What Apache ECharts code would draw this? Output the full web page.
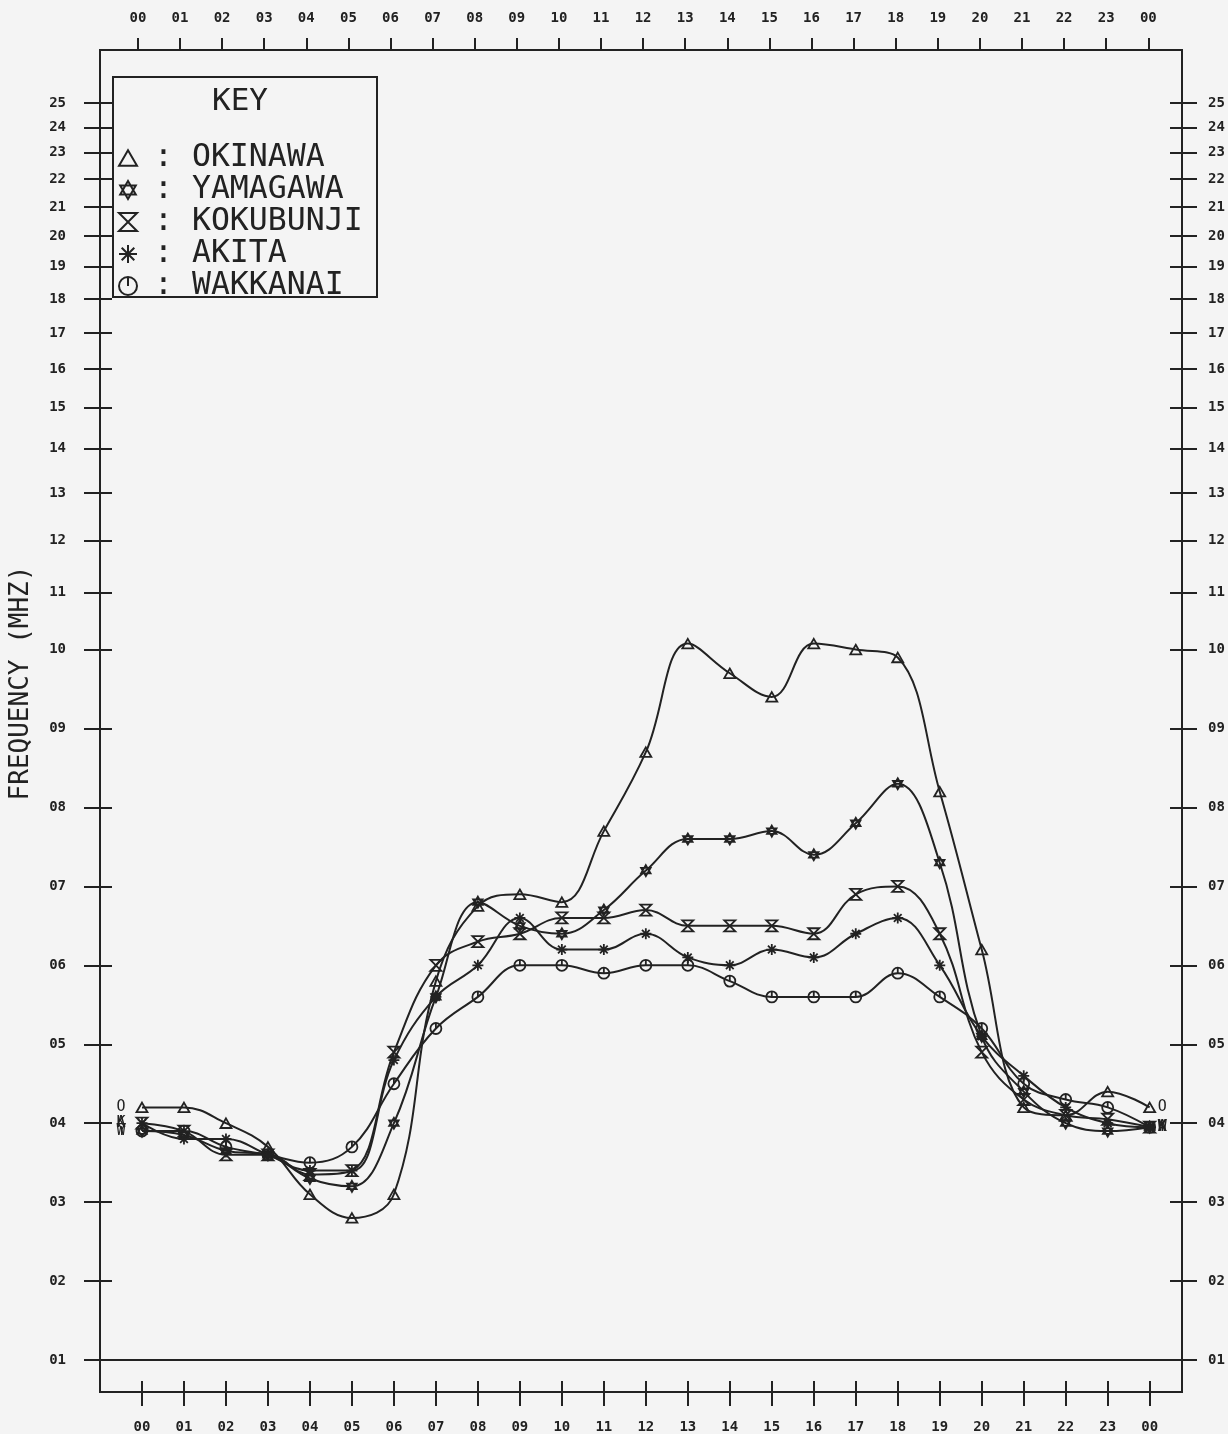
<!DOCTYPE html>
<html><head><meta charset="utf-8">
<script src="https://cdn.jsdelivr.net/npm/echarts@6/dist/echarts.min.js"></script>
<style>html,body{margin:0;padding:0;background:#f4f4f4}#c{width:1228px;height:1434px}</style>
</head><body><div id="c"></div><script>
// ---- data ----
const hours = [0,1,2,3,4,5,6,7,8,9,10,11,12,13,14,15,16,17,18,19,20,21,22,23,24];
const freqTicks = [1,2,3,4,5,6,7,8,9,10,11,12,13,14,15,16,17,18,19,20,21,22,23,24,25];
const stations = ['OKINAWA','YAMAGAWA','KOKUBUNJI','AKITA','WAKKANAI'];
const stationLetters = ['O','Y','K','A','W'];
const okinawa   = [4.2,4.2,4.0,3.7,3.1,2.8,3.1,5.8,6.75,6.9,6.8,7.7,8.7,10.1,9.7,9.4,10.1,10.0,9.9,8.2,6.2,4.2,4.1,4.4,4.2];
const yamagawa  = [3.9,3.85,3.65,3.6,3.3,3.2,4.0,5.6,6.8,6.5,6.4,6.7,7.2,7.6,7.6,7.7,7.4,7.8,8.3,7.3,5.1,4.4,4.0,3.9,3.95];
const kokubunji = [4.0,3.9,3.6,3.6,3.35,3.4,4.9,6.0,6.3,6.4,6.6,6.6,6.7,6.5,6.5,6.5,6.4,6.9,7.0,6.4,4.9,4.3,4.1,4.05,3.95];
const akita     = [4.0,3.8,3.8,3.6,3.4,3.4,4.8,5.6,6.0,6.6,6.2,6.2,6.4,6.1,6.0,6.2,6.1,6.4,6.6,6.0,5.1,4.6,4.2,4.0,3.95];
const wakkanai  = [3.9,3.9,3.7,3.6,3.5,3.7,4.5,5.2,5.6,6.0,6.0,5.9,6.0,6.0,5.8,5.6,5.6,5.6,5.9,5.6,5.2,4.5,4.3,4.2,3.95];
const seriesValues = [okinawa, yamagawa, kokubunji, akita, wakkanai];

// ---- axis scale: linear to 10 MHz, logarithmic above ----
const K = 7.557;
function pos(f){ return f <= 10 ? f : 10 + K*Math.log(f/10); }
function inv(p){ return p <= 10.0001 ? p : 10*Math.exp((p-10)/K); }
function pad2(n){ n = Math.round(n); return (n<10?'0':'') + n; }

// ---- styles ----
const INK = '#222222';
const FONT = 'DejaVu Sans Mono';
const symbols = [
  'path://M5 0 L10 8.7 L0 8.7 Z',
  'path://M5 0 L9.33 7.5 L0.67 7.5 Z M5 10 L0.67 2.5 L9.33 2.5 Z',
  'path://M0 0 L10 0 L0 10 L10 10 Z',
  'path://M5 0 L5 10 M0 5 L10 5 M1.5 1.5 L8.5 8.5 M8.5 1.5 L1.5 8.5',
  'path://M10 5 A5 5 0 1 1 0 5 A5 5 0 1 1 10 5 Z M5 0 L5 5'
];

const yTickPos = freqTicks.map(pos);
const xTickVals = hours.slice();
const xLabelFmt = v => pad2(((Math.round(v)%24)+24)%24);
const yLabelFmt = v => pad2(inv(v));
const labelStyle = {fontFamily: FONT, fontSize: 14, fontWeight: 'bold', color: INK};

const X_MIN = -1, X_MAX = 24.77, Y_MIN = 0.595, Y_MAX = 17.595;

function xAxisDef(position, tickInside, tickLen, showLabel, margin, mn, mx){
  return {
    type: 'value', position, min: mn, max: mx,
    axisLine: {show: true, onZero: false, lineStyle: {color: INK, width: 2}},
    axisTick: {show: true, inside: tickInside, length: tickLen, customValues: xTickVals, lineStyle: {color: INK, width: 2}},
    axisLabel: {show: showLabel, customValues: xTickVals, formatter: xLabelFmt, margin: margin, ...labelStyle},
    splitLine: {show: false}
  };
}
function yAxisDef(position, tickInside, tickLen, showLabel, margin, extra){
  return Object.assign({
    type: 'value', position, min: Y_MIN, max: Y_MAX,
    axisLine: {show: true, onZero: false, lineStyle: {color: INK, width: 2}},
    axisTick: {show: true, inside: tickInside, length: tickLen, customValues: yTickPos, lineStyle: {color: INK, width: 2}},
    axisLabel: {show: showLabel, customValues: yTickPos, formatter: yLabelFmt, margin: margin, ...labelStyle},
    splitLine: {show: false}
  }, extra || {});
}

const series = stations.map((name, si) => ({
  name, type: 'line', smooth: 0.4,
  xAxisIndex: 0, yAxisIndex: 0,
  symbol: symbols[si], symbolSize: 11, symbolKeepAspect: true,
  lineStyle: {color: INK, width: 2},
  itemStyle: {color: 'rgba(0,0,0,0)', borderColor: INK, borderWidth: 1.8},
  emphasis: {disabled: true},
  animation: false,
  data: hours.map((h, i) => i === 0
    ? {value: [h, pos(seriesValues[si][i])],
       label: {show: true, position: 'left', distance: 10, formatter: stationLetters[si], fontFamily: FONT, fontSize: 15, color: INK}}
    : [h, pos(seriesValues[si][i])]),
  endLabel: {show: true, formatter: stationLetters[si], distance: 8, fontFamily: FONT, fontSize: 15, color: INK},
  markLine: si === 0 ? {
    silent: true, symbol: ['none','none'], label: {show: false},
    lineStyle: {color: INK, width: 2, type: 'solid'},
    data: [{yAxis: pos(1)}]
  } : undefined
}));

const chart = echarts.init(document.getElementById('c'), null, {renderer: 'canvas'});
chart.setOption({
  backgroundColor: '#f4f4f4',
  animation: false,
  grid: {left: 97, right: 46, top: 50, bottom: 41, containLabel: false},
  title: {text: 'KEY', left: 212, top: 86, padding: 0,
    textStyle: {fontFamily: FONT, fontSize: 31, fontWeight: 'normal', color: INK}},
  graphic: [{type: 'rect', shape: {x: 113, y: 77, width: 264, height: 220},
    style: {fill: 'none', stroke: INK, lineWidth: 2}, silent: true}],
  legend: {
    orient: 'vertical', left: 118, top: 142, padding: 0, itemGap: 0,
    itemWidth: 18, itemHeight: 18, selectedMode: false,
    data: stations.map((n, i) => ({name: n, icon: symbols[i]})),
    itemStyle: {color: 'rgba(0,0,0,0)', borderColor: INK, borderWidth: 2},
    formatter: n => ': ' + n,
    textStyle: {fontFamily: FONT, fontSize: 31.5, color: INK, lineHeight: 31.5, padding: [0,0,0,12]}
  },
  xAxis: [
    xAxisDef('bottom', true, 11, false, 0, X_MIN, X_MAX),
    xAxisDef('bottom', false, 14, true, 28, X_MIN, X_MAX),
    xAxisDef('top', false, 12, true, 25, -0.9, 24.8)
  ],
  yAxis: [
    yAxisDef('left', true, 12, false, 0),
    yAxisDef('left', false, 16, true, 34, {
      name: 'FREQUENCY (MHZ)', nameLocation: 'middle', nameGap: 66, nameRotate: 90,
      nameTextStyle: {fontFamily: FONT, fontSize: 26, color: INK, padding: [0, 0, 0, 76]}
    }),
    yAxisDef('right', true, 12, false, 0),
    yAxisDef('right', false, 15, true, 26)
  ],
  series
});
</script></body></html>
